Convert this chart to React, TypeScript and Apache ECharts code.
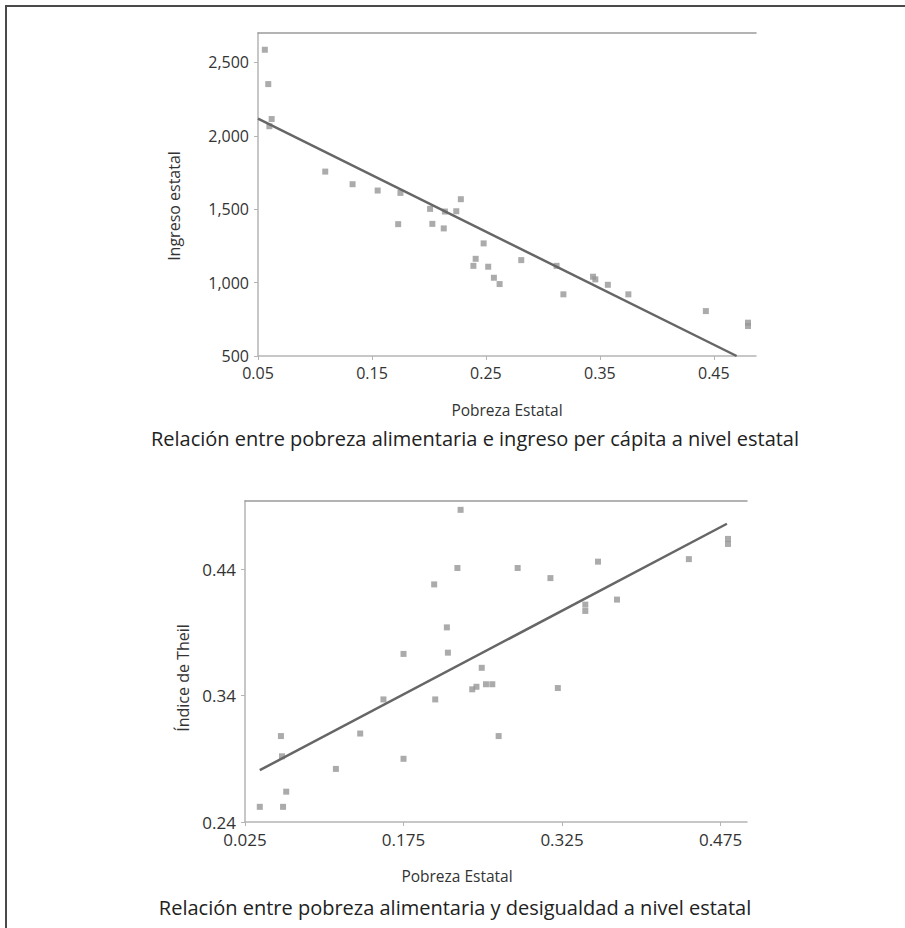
import React, { useEffect, useRef } from "react";
import * as echarts from "echarts";

// ---- Top chart: food poverty vs income per capita ----
const topPoverty = [0.056, 0.059, 0.062, 0.060, 0.109, 0.133, 0.155, 0.175, 0.173, 0.201, 0.203, 0.213, 0.214, 0.224, 0.228, 0.248, 0.239, 0.241, 0.252, 0.257, 0.262, 0.281, 0.312, 0.318, 0.344, 0.346, 0.357, 0.375, 0.443, 0.480, 0.480];
const topIncome = [2586, 2352, 2114, 2065, 1756, 1670, 1627, 1611, 1398, 1502, 1400, 1369, 1484, 1486, 1568, 1267, 1114, 1162, 1108, 1033, 990, 1153, 1114, 920, 1040, 1022, 985, 920, 806, 727, 704];
const topFitX = [0.05, 0.47];
const topFitY = [2117, 500];
const topXTicks = [0.05, 0.15, 0.25, 0.35, 0.45];
const topYTicks = [500, 1000, 1500, 2000, 2500];

// ---- Bottom chart: food poverty vs Theil index ----
const bottomPoverty = [0.229, 0.226, 0.283, 0.204, 0.216, 0.175, 0.217, 0.249, 0.240, 0.244, 0.253, 0.259, 0.156, 0.205, 0.059, 0.134, 0.265, 0.060, 0.111, 0.175, 0.064, 0.039, 0.061, 0.314, 0.321, 0.347, 0.347, 0.359, 0.377, 0.445, 0.482, 0.482];
const bottomTheil = [0.487, 0.441, 0.441, 0.428, 0.394, 0.373, 0.374, 0.362, 0.345, 0.347, 0.349, 0.349, 0.337, 0.337, 0.308, 0.310, 0.308, 0.292, 0.282, 0.290, 0.264, 0.252, 0.252, 0.433, 0.346, 0.412, 0.407, 0.446, 0.416, 0.448, 0.464, 0.460];
const bottomFitX = [0.039, 0.481];
const bottomFitY = [0.281, 0.476];
const bottomXTicks = [0.025, 0.175, 0.325, 0.475];
const bottomYTicks = [0.24, 0.34, 0.44];

const FONT = "'Open Sans', 'Noto Sans', sans-serif";
const POINT = "#969696";
const FIT = "#666666";
const AXIS = "#b5b5b5";
const LABEL = "#333333";

function valueAxis(gridIndex: number, min: number, max: number, ticks: number[], fmt: (v: number) => string, isX: boolean, size: number) {
  return {
    type: "value",
    gridIndex,
    min,
    max,
    position: isX ? "bottom" : "left",
    splitLine: { show: false },
    axisLine: { show: true, onZero: false, lineStyle: { color: AXIS, width: 1.5 } },
    axisTick: { show: true, length: 4, customValues: ticks, lineStyle: { color: AXIS } },
    axisLabel: {
      customValues: ticks,
      formatter: (v: number) => fmt(v),
      color: LABEL,
      fontFamily: FONT,
      fontSize: size,
      margin: 9,
    },
  };
}

function topBorderAxis(gridIndex: number, min: number, max: number) {
  return {
    type: "value",
    gridIndex,
    min,
    max,
    position: "top",
    splitLine: { show: false },
    axisLine: { show: true, onZero: false, lineStyle: { color: "#9a9a9a", width: 1.5 } },
    axisTick: { show: false },
    axisLabel: { show: false },
  };
}

export default function App() {
  const ref = useRef<HTMLDivElement>(null);
  useEffect(() => {
    if (!ref.current) return;
    const chart = echarts.init(ref.current, undefined, { renderer: "svg" });
    const topPts = topPoverty.map((x, i) => [x, topIncome[i]]);
    const bottomPts = bottomPoverty.map((x, i) => [x, bottomTheil[i]]);
    const text = (t: string, x: number, y: number, size: number, rot = 0, fill = LABEL) => ({
      type: "text",
      x,
      y,
      rotation: rot,
      silent: true,
      style: { text: t, fill, font: `${size}px ${FONT}`, align: "center", verticalAlign: "middle" },
    });
    chart.setOption({
      animation: false,
      backgroundColor: "#ffffff",
      grid: [
        { left: 258, top: 33, width: 498, height: 323 },
        { left: 245, top: 501, width: 502, height: 321 },
      ],
      xAxis: [
        valueAxis(0, 0.05, 0.487, topXTicks, (v) => v.toFixed(2), true, 16),
        valueAxis(1, 0.025, 0.5, bottomXTicks, (v) => v.toFixed(3), true, 17),
        topBorderAxis(0, 0.05, 0.487),
        topBorderAxis(1, 0.025, 0.5),
      ],
      yAxis: [
        valueAxis(0, 500, 2700, topYTicks, (v) => v.toLocaleString("en-US"), false, 16),
        valueAxis(1, 0.24, 0.494, bottomYTicks, (v) => v.toFixed(2), false, 17),
      ],
      series: [
        {
          type: "scatter",
          xAxisIndex: 0,
          yAxisIndex: 0,
          symbol: "rect",
          symbolSize: 6,
          itemStyle: { color: POINT },
          data: topPts,
        },
        {
          type: "line",
          xAxisIndex: 0,
          yAxisIndex: 0,
          symbol: "none",
          lineStyle: { color: FIT, width: 2.5 },
          data: topFitX.map((x, i) => [x, topFitY[i]]),
        },
        {
          type: "scatter",
          xAxisIndex: 1,
          yAxisIndex: 1,
          symbol: "rect",
          symbolSize: 6,
          itemStyle: { color: POINT },
          data: bottomPts,
        },
        {
          type: "line",
          xAxisIndex: 1,
          yAxisIndex: 1,
          symbol: "none",
          lineStyle: { color: FIT, width: 2.5 },
          data: bottomFitX.map((x, i) => [x, bottomFitY[i]]),
        },
      ],
      graphic: [
        { type: "line", silent: true, shape: { x1: 6, y1: 5, x2: 6, y2: 928 }, style: { stroke: "#4a4a4a", lineWidth: 2 } },
        { type: "line", silent: true, shape: { x1: 5, y1: 6, x2: 905, y2: 6 }, style: { stroke: "#4a4a4a", lineWidth: 2 } },
        text("Ingreso estatal", 174, 206, 16, Math.PI / 2),
        text("Pobreza Estatal", 507, 410, 15.5),
        text("Relación entre pobreza alimentaria e ingreso per cápita a nivel estatal", 475, 438, 20, 0, "#222222"),
        text("Índice de Theil", 183, 678, 16, Math.PI / 2),
        text("Pobreza Estatal", 457, 876, 15.5),
        text("Relación entre pobreza alimentaria y desigualdad a nivel estatal", 455, 907, 20, 0, "#222222"),
      ],
    });
    return () => chart.dispose();
  }, []);
  return <div ref={ref} style={{ position: "absolute", left: 0, top: 0, width: 905, height: 928 }} />;
}
